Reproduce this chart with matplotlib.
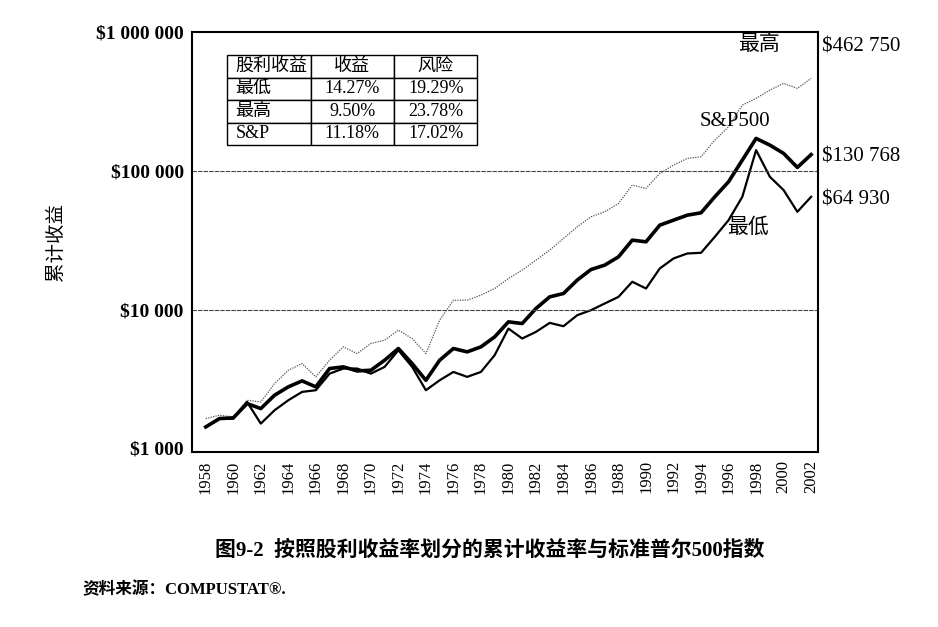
import numpy as np
import matplotlib
matplotlib.use('Agg')
import matplotlib.pyplot as plt
from matplotlib.ticker import FixedLocator, NullLocator

FONT = ['Liberation Serif', 'Noto Sans CJK SC']
plt.rcParams['font.family'] = FONT

years = list(range(1958, 2003))
sp500 = [1425, 1637, 1655, 2100, 1932, 2412, 2770, 3060, 2770, 3755, 3860, 3610, 3650, 4310, 5235,
         4080, 3090, 4310, 5235, 4950, 5380, 6350, 8150, 7925, 10170, 12340, 13040, 16290, 19420,
         20890, 23970, 31620, 30760, 40550, 44060, 47870, 49780, 64940, 83340, 119400, 171000,
         153100, 133400, 105700, 130768]
low = [1425, 1637, 1637, 2158, 1506, 1879, 2218, 2548, 2620, 3450, 3755, 3755, 3450, 3860, 5090,
       3860, 2620, 3090, 3550, 3270, 3550, 4690, 7290, 6180, 6900, 8010, 7580, 9100, 9890, 11050,
       12340, 15850, 14170, 19760, 23330, 25340, 25630, 33420, 44060, 64940, 140900, 90500, 72560,
       50600, 64930]
high = [1637, 1730, 1683, 2218, 2158, 2926, 3650, 4080, 3270, 4310, 5380, 4815, 5690, 6010, 7100,
        6180, 4815, 8380, 11670, 11670, 12690, 14170, 16740, 19220, 22690, 26790, 32510, 39450,
        46590, 50600, 58080, 78800, 74600, 95700, 109900, 122700, 126200, 166300, 207600, 297600,
        332400, 381700, 426400, 392400, 462750]

ytick_vals = [1000, 10000, 100000, 1000000]
ytick_labels = ['$1 000', '$10 000', '$100 000', '$1 000 000']
table_rows = [['股利收益', '收益', '风险'],
              ['最低', '14.27%', '19.29%'],
              ['最高', '9.50%', '23.78%'],
              ['S&P', '11.18%', '17.02%']]

W, H = 938, 627
fig = plt.figure(figsize=(W / 100, H / 100), dpi=100)
ax = fig.add_axes([192 / W, 1 - 452 / H, 626 / W, 420 / H])

ax.plot(years, high, color='#555555', lw=0.9, ls=(0, (1, 1)))
ax.plot(years, low, color='black', lw=1.6)
ax.plot(years, sp500, color='black', lw=2.6)

ax.set_yscale('log')
ax.set_ylim(940, 1.0e6)
ax.set_xlim(1957, 2002.5)
ax.yaxis.set_major_locator(FixedLocator(ytick_vals))
ax.yaxis.set_minor_locator(NullLocator())
ax.set_yticklabels(ytick_labels, fontsize=14, fontweight='bold')
ax.set_xticks(range(1958, 2003, 2))
ax.set_xticklabels([str(y) for y in range(1958, 2003, 2)], rotation=90, fontsize=12)
ax.tick_params(length=0, pad=6)
for v in [10000, 100000]:
    ax.axhline(v, color='#444444', lw=0.8, ls=(0, (4, 1)))
for s in ax.spines.values():
    s.set_linewidth(1.5)
ax.set_ylabel('累计收益', fontsize=14, labelpad=22)

tb = ax.table(cellText=table_rows, cellLoc='center', bbox=[0.056, 0.731, 0.40, 0.214])
tb.auto_set_font_size(False)
for (r, c), cell in tb.get_celld().items():
    cell.set_linewidth(1.0)
    cell.get_text().set_fontsize(13)
    cell.get_text().set_family(FONT)
    if c == 0:
        cell.get_text().set_ha('left')
        cell._loc = 'left'

def ftxt(x, y, s, **kw):
    fig.text(x / W, 1 - y / H, s, va='center', **kw)

ftxt(738, 45, '最高', fontsize=15)
ftxt(822, 47, '$462 750', fontsize=15)
ftxt(700, 122, 'S&P500', fontsize=15)
ftxt(822, 157, '$130 768', fontsize=15)
ftxt(822, 200, '$64 930', fontsize=15)
ftxt(727, 228, '最低', fontsize=15)
ftxt(215, 551, '图9-2  按照股利收益率划分的累计收益率与标准普尔500指数', fontsize=15, fontweight='bold')
ftxt(82, 590, '资料来源：COMPUSTAT®.', fontsize=12, fontweight='bold')

fig.savefig('out.png', dpi=100)
